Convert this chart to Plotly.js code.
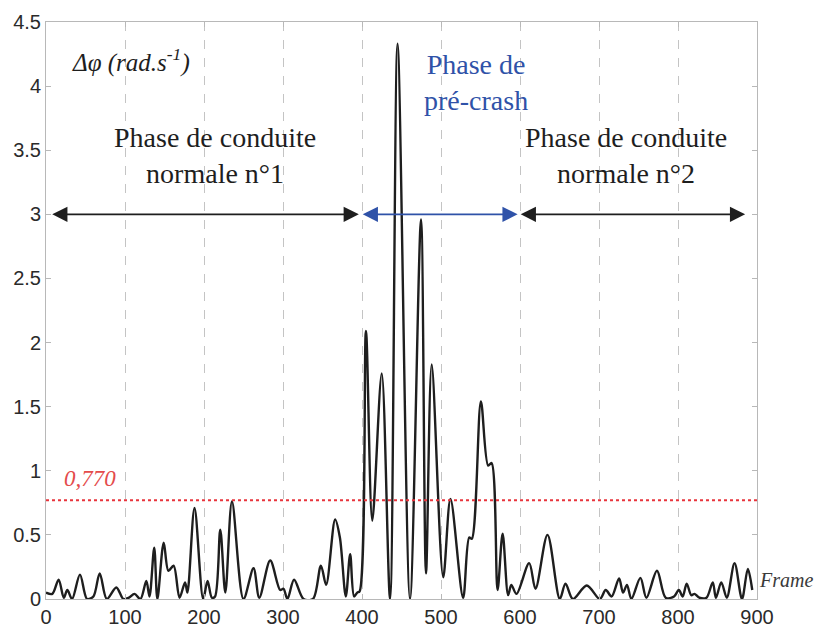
<!DOCTYPE html>
<html>
<head>
<meta charset="utf-8">
<script src="https://cdn.plot.ly/plotly-3.0.1.min.js"></script>
<style>html,body{margin:0;padding:0;background:#fff;}#chart{width:821px;height:627px;}</style>
</head>
<body>
<div id="chart"></div>
<script>
// Signal Δφ (rad.s-1) vs frame
const frames = [0, 8, 16, 22.5, 27, 33, 43, 52, 60, 68, 77, 89, 98, 105, 112, 119.5, 127, 131, 137, 141, 149, 155, 161.5, 169, 176, 179, 188, 199, 204.5, 210, 214, 220.6, 227, 235.4, 250, 262.7, 270, 283.8, 296.4, 300.6, 305.6, 314, 326, 338, 348, 354.6, 366, 372, 379.5, 385, 390, 394, 397, 405, 413, 425, 435.5, 445, 460.8, 474.7, 481, 488.2, 502.8, 512, 528, 535.7, 539, 550.5, 559.7, 564, 571.6, 578, 585, 589, 595.6, 611.6, 619.6, 634.8, 650.4, 657.6, 667, 684.5, 701, 708.5, 716, 725.4, 730.4, 735.4, 741, 752.4, 760, 773.4, 784.4, 795, 801, 806, 811, 816.8, 821, 827, 836, 844, 848, 854.8, 861.8, 871.6, 881, 888.4, 894];
const deltaPhi = [0.05, 0.04, 0.15, 0.01, 0.07, 0.0, 0.19, 0.0, 0.02, 0.20, 0.0, 0.09, 0.0, 0.01, 0.04, 0.0, 0.14, 0.02, 0.40, 0.0, 0.44, 0.22, 0.26, 0.01, 0.13, 0.05, 0.71, 0.0, 0.14, 0.01, 0.02, 0.54, 0.05, 0.76, 0.0, 0.24, 0.01, 0.30, 0.07, 0.08, 0.0, 0.15, 0.0, 0.0, 0.26, 0.11, 0.62, 0.48, 0.02, 0.35, 0.02, 0.05, 0.06, 2.09, 0.61, 1.76, 0.0, 4.33, 0.0, 2.96, 0.2, 1.83, 0.17, 0.78, 0.01, 0.48, 0.47, 1.54, 1.04, 1.06, 0.07, 0.51, 0.03, 0.11, 0.04, 0.28, 0.08, 0.50, 0.0, 0.12, 0.0, 0.105, 0.0, 0.07, 0.02, 0.16, 0.05, 0.11, 0.0, 0.165, 0.01, 0.22, 0.01, 0.02, 0.07, 0.02, 0.12, 0.03, 0.04, 0.01, 0.01, 0.13, 0.01, 0.13, 0.01, 0.28, 0.0, 0.235, 0.07];
const threshold = 0.770;
const thresholdLabel = '0,770';
const xTicks = [0, 100, 200, 300, 400, 500, 600, 700, 800, 900];
const yTicks = [0, 0.5, 1, 1.5, 2, 2.5, 3, 3.5, 4, 4.5];
const yTickLabels = ['0', '0.5', '1', '1.5', '2', '2.5', '3', '3.5', '4', '4.5'];
// Phase segments (frame start, frame end) at level 3
const phaseLevel = 3;
const phase1 = [6, 396];
const phaseCrash = [399, 597];
const phase2 = [599, 885];

const serif = 'Liberation Serif, Times New Roman, serif';
const black = '#1e1e1e';
const blue = '#2f52a8';

const traces = [
  {x: frames, y: deltaPhi, type: 'scatter', mode: 'lines',
   line: {color: black, width: 2.4, shape: 'spline', smoothing: 0.9}, hoverinfo: 'skip'},
  {x: [0, 900], y: [threshold, threshold], type: 'scatter', mode: 'lines',
   line: {color: '#e8343c', width: 1.8, dash: 'dot'}, hoverinfo: 'skip'}
];

function arrow(seg, color) {
  return {x: seg[1], y: phaseLevel, ax: seg[0], ay: phaseLevel, xref: 'x', yref: 'y', axref: 'x', ayref: 'y',
    text: '', showarrow: true, arrowside: 'end+start', arrowhead: 2, arrowsize: 1.9, arrowwidth: 1.6,
    arrowcolor: color, standoff: 0, startstandoff: 0};
}

const layout = {
  width: 821, height: 627,
  margin: {l: 46, r: 64, t: 22, b: 28},
  paper_bgcolor: '#ffffff', plot_bgcolor: '#ffffff',
  showlegend: false,
  font: {family: 'Liberation Sans, Arial, sans-serif', size: 20, color: '#2a2a2a'},
  xaxis: {range: [0, 900], tickvals: xTicks, ticktext: xTicks.map(String),
    showgrid: true, gridcolor: '#c4c4c4', griddash: 'dash', gridwidth: 1,
    showline: true, linecolor: '#b8b8b8', linewidth: 1, mirror: 'ticks',
    ticks: 'inside', ticklen: 5, tickcolor: '#b8b8b8', zeroline: false, fixedrange: true,
    tickfont: {size: 20, color: '#2a2a2a'}},
  yaxis: {range: [0, 4.5], tickvals: yTicks, ticktext: yTickLabels,
    showgrid: false, showline: true, linecolor: '#b8b8b8', linewidth: 1, mirror: 'ticks',
    ticks: 'inside', ticklen: 5, tickcolor: '#b8b8b8', zeroline: false, fixedrange: true,
    tickfont: {size: 20, color: '#2a2a2a'}},
  annotations: [
    {x: 107, y: 4.2, xref: 'x', yref: 'y', showarrow: false,
     text: '<i>Δφ (rad.s<sup>-1</sup>)</i>', font: {family: serif, size: 25, color: black}},
    {x: 214, y: 3.46, xref: 'x', yref: 'y', showarrow: false,
     text: 'Phase de conduite<br>normale n°1', font: {family: serif, size: 28, color: black}},
    {x: 544, y: 4.03, xref: 'x', yref: 'y', showarrow: false,
     text: 'Phase de<br>pré-crash', font: {family: serif, size: 28, color: blue}},
    {x: 734, y: 3.46, xref: 'x', yref: 'y', showarrow: false,
     text: 'Phase de conduite<br>normale n°2', font: {family: serif, size: 28, color: black}},
    {x: 56, y: 0.94, xref: 'x', yref: 'y', showarrow: false,
     text: '<i>' + thresholdLabel + '</i>', font: {family: serif, size: 23, color: '#e44b4b'}},
    {x: 1.0, y: 0.15, xref: 'paper', yref: 'y', xanchor: 'left', showarrow: false,
     text: '<i>Frame</i>', font: {family: serif, size: 20, color: '#3a3a3a'}},
    arrow(phase1, black),
    arrow(phaseCrash, blue),
    arrow(phase2, black)
  ]
};

Plotly.newPlot('chart', traces, layout, {staticPlot: true, displayModeBar: false});
</script>
</body>
</html>
